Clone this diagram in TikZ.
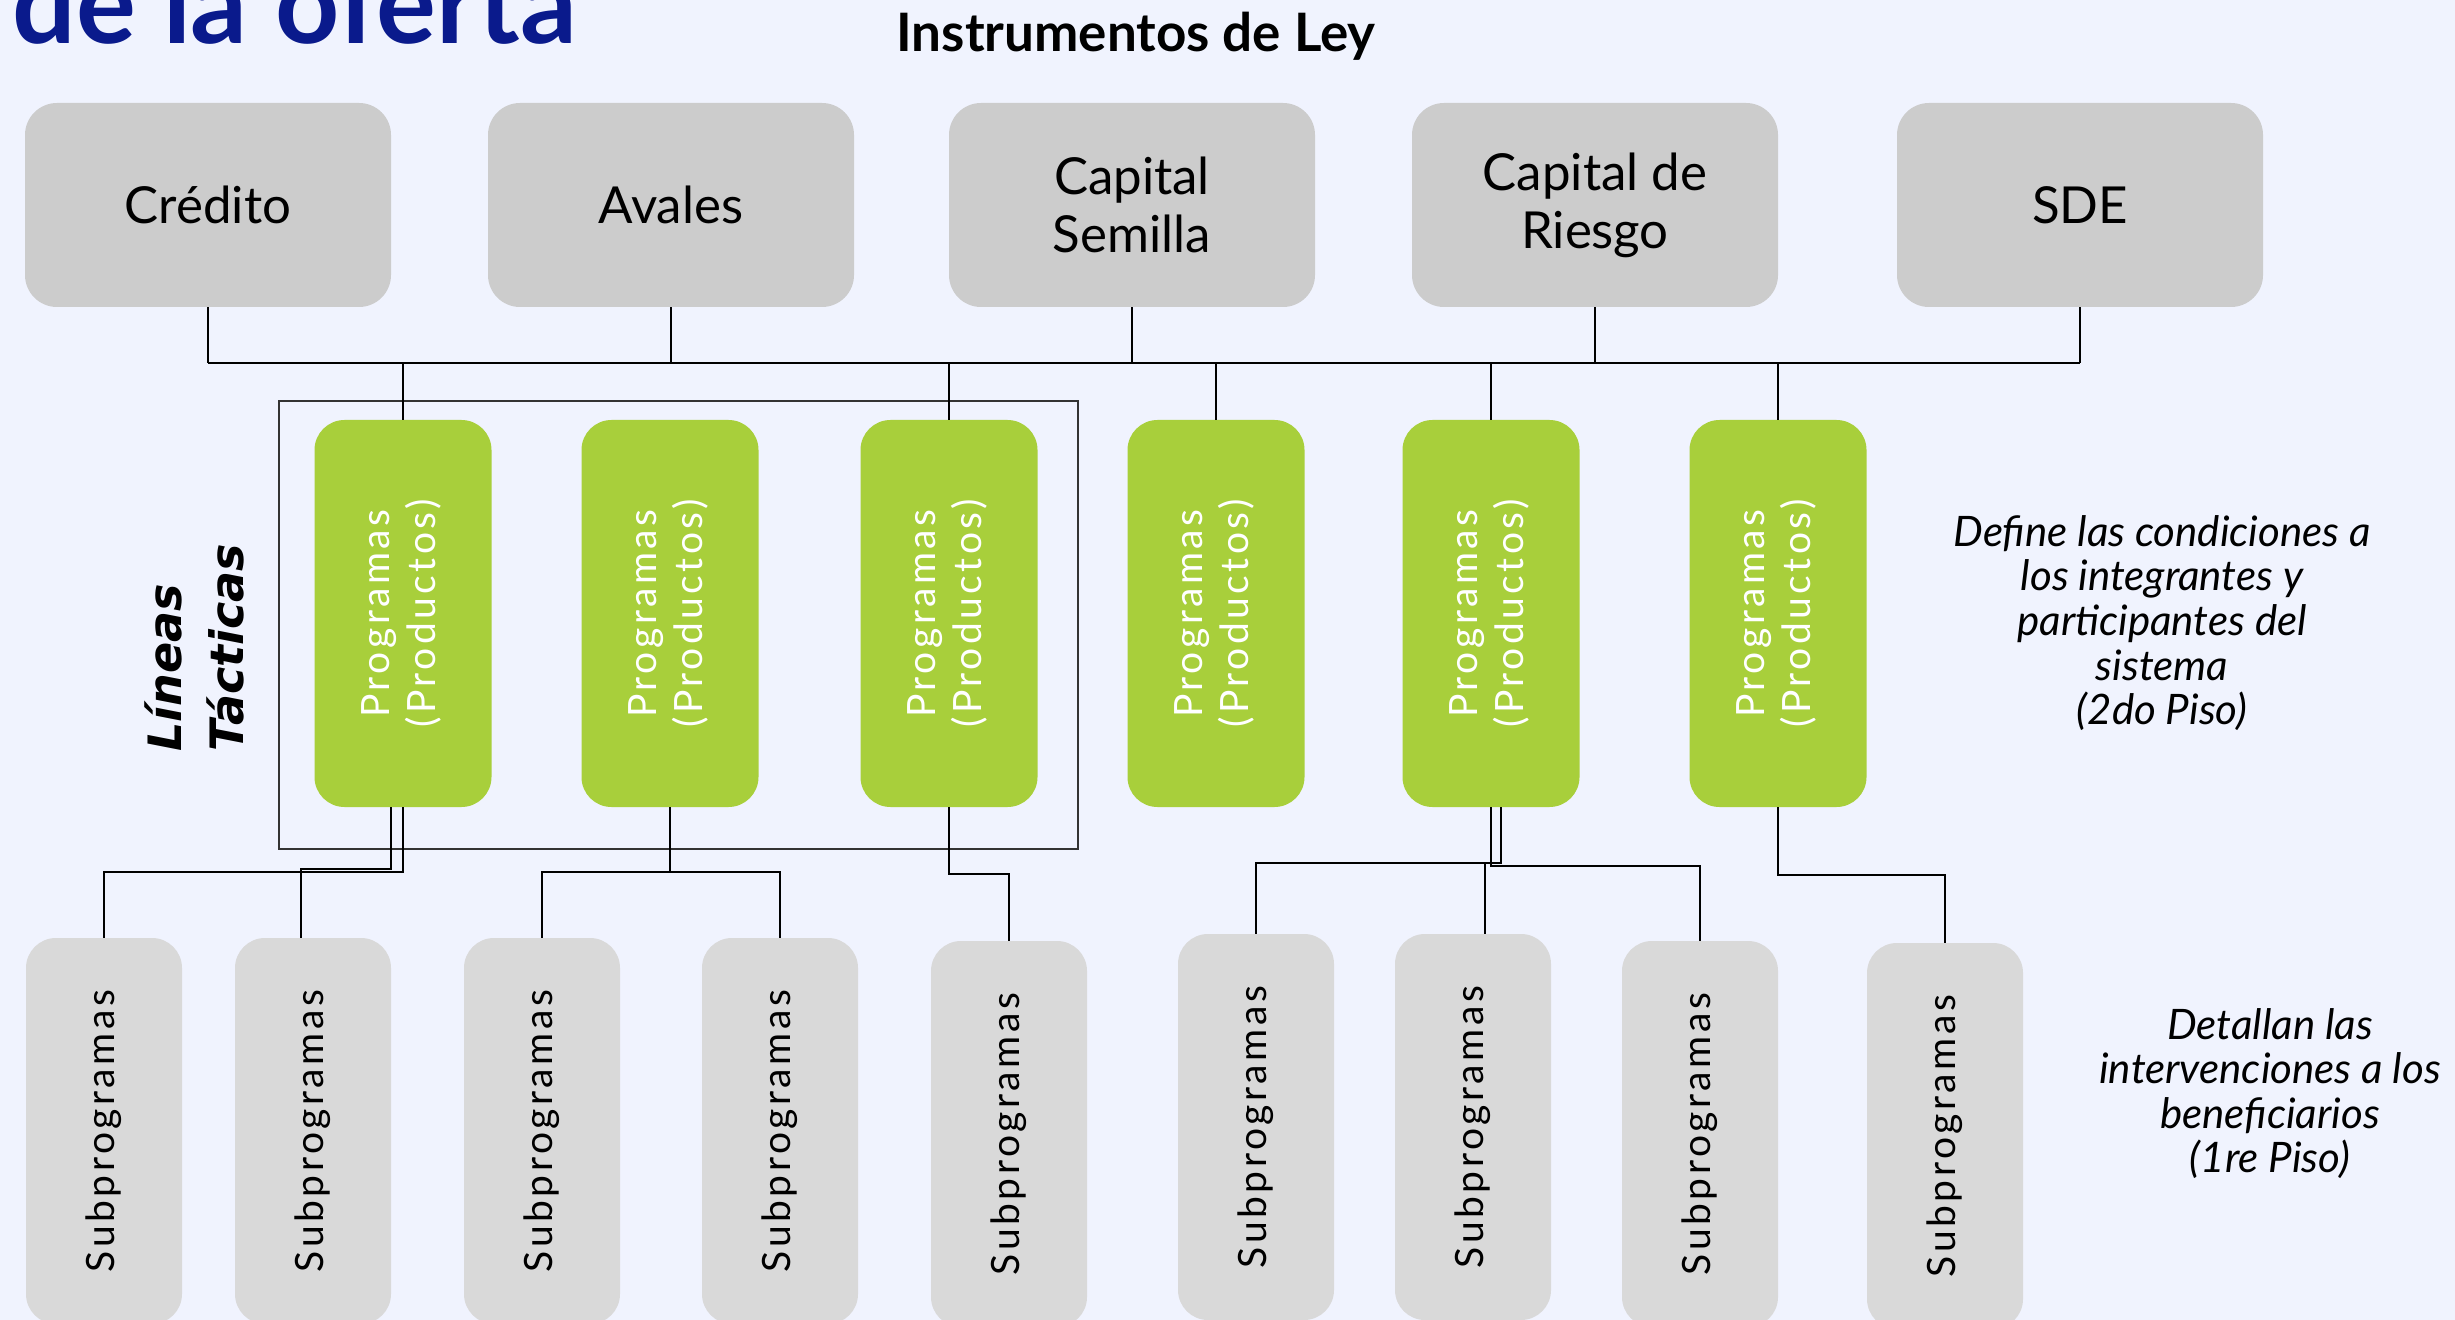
\documentclass[tikz,border=0pt]{standalone}
\usepackage{fontspec}
\setmainfont{Lato}
\newfontfamily\spacedfont[LetterSpace=9]{Lato}
\newfontfamily\widefont{DejaVu Sans}
\usetikzlibrary{calc}
\definecolor{bgc}{HTML}{F0F3FE}
\definecolor{gtop}{HTML}{CCCCCC}
\definecolor{gsub}{HTML}{D9D9D9}
\definecolor{gprog}{HTML}{A8CF3B}
\definecolor{navy}{HTML}{0A1A8C}
\definecolor{framec}{HTML}{333333}
\begin{document}
\begin{tikzpicture}[x=0.5pt,y=-0.5pt,
  topbox/.style={fill=gtop, rounded corners=16pt, minimum width=183pt, minimum height=102pt,
    align=center, inner sep=0pt, font=\fontsize{25.5}{29}\selectfont},
  progbox/.style={fill=gprog, rounded corners=15pt, minimum width=88.5pt, minimum height=193.5pt,
    inner sep=0pt, text=white, font=\spacedfont\fontsize{19.5}{23}\selectfont},
  subbox/.style={fill=gsub, rounded corners=15pt, minimum width=78pt, minimum height=193pt,
    inner sep=0pt, font=\spacedfont\fontsize{19.5}{23}\selectfont},
  link/.style={draw=black, line width=1pt},
  bus/.style={draw=black, line width=1.3pt},
  note/.style={align=center, font=\itshape\fontsize{21}{22.3}\selectfont, inner sep=0pt}
]
\fill[bgc] (0,0) rectangle (2455,1320);
\useasboundingbox (0,0) rectangle (2455,1320);

% titles
\node[anchor=base west, inner sep=0pt, text=navy, font=\bfseries\fontsize{56}{60}\selectfont] (title) at (12,44) {de la oferta};
\node[anchor=base, inner sep=0pt, font=\bfseries\fontsize{26.5}{30}\selectfont] (instr) at (1136,52) {Instrumentos de Ley};

% top boxes
\node[topbox] (cred) at (208,205) {Crédito};
\node[topbox] (aval) at (671,205) {Avales};
\node[topbox] (semi) at (1132,205) {Capital\\Semilla};
\node[topbox] (ries) at (1595,205) {Capital de\\Riesgo};
\node[topbox] (sde)  at (2080,205) {SDE};

% frame
\node[draw=framec, line width=1pt, minimum width=399.5pt, minimum height=224pt, inner sep=0pt] (frm) at (678.5,625) {};

% program boxes
\foreach \n/\x in {g1/403, g2/670, g3/949, g4/1216, g5/1491, g6/1778}
  \node[progbox] (\n) at (\x,613.5) {\rotatebox{90}{\begin{tabular}{@{}c@{}}Programas\\(Productos)\end{tabular}}};

% subprogram boxes
\foreach \n/\x/\t in {s1/104/938, s2/313/938, s3/542/938, s4/780/938, s5/1009/941, s6/1256/934, s7/1473/934, s8/1700/941, s9/1945/943}
  \node[subbox] (\n) at (\x,\t+193) {\rotatebox{90}{Subprogramas}};

% bus
\coordinate (busL) at (208,363);
\coordinate (busR) at (2080,363);
\draw[bus] (busL) -- (busR);
\foreach \n in {cred,aval,semi,ries,sde}
  \draw[link] (\n.south) -- (\n.south |- busL);
\foreach \n in {g1,g3,g4,g5,g6}
  \draw[link] (\n.north) -- (\n.north |- busL);

% lower connectors
\draw[link] (g1.south) -- ++(0,65) -| (s1.north);
\draw[link] ([xshift=-6pt]g1.south) -- ++(0,62) -| ([xshift=-6pt]s2.north);
\draw[link] (g2.south) -- ++(0,65) -| (s3.north);
\draw[link] (g2.south) -- ++(0,65) -| (s4.north);
\draw[link] (g3.south) -- ++(0,67) -| (s5.north);
\draw[link] ([xshift=5pt]g5.south) -- ++(0,56) -| (s6.north);
\draw[link] (g5.south) -- ++(0,56) -| ([xshift=6pt]s7.north);
\draw[link] (g5.south) -- ++(0,59) -| (s8.north);
\draw[link] (g6.south) -- ++(0,68) -| (s9.north);

% side labels
\node[rotate=90, anchor=west, align=left, inner sep=0pt, font=\widefont\bfseries\itshape\fontsize{23}{31}\selectfont] (lineas) at (194,752) {Líneas\\Tácticas};
\node[note] (note2) at (2162,623) {Define las condiciones a\\los integrantes y\\participantes del\\sistema\\(2do Piso)};
\node[note] (note1) at (2270,1093.5) {Detallan las\\intervenciones a los\\beneficiarios\\(1re Piso)};
\end{tikzpicture}
\end{document}
